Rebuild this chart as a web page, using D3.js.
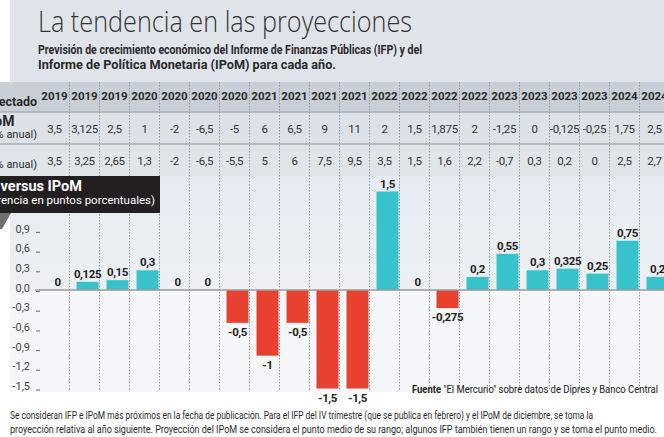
<!DOCTYPE html>
<html>
<head>
<meta charset="utf-8">
<script src="https://cdn.jsdelivr.net/npm/d3@7"></script>
<style>
  body { margin: 0; background: #fff; }
  svg { display: block; font-family: Roboto, "Open Sans", sans-serif; }
</style>
</head>
<body>
<svg id="chart" width="664" height="437"></svg>
<script>
// data
const years = ["2019", "2019", "2019", "2020", "2020", "2020", "2020", "2021", "2021", "2021", "2021",
  "2022", "2022", "2022", "2022", "2023", "2023", "2023", "2023", "2024", "2024"];
const ipomRow = [3.5, 3.125, 2.5, 1, -2, -6.5, -5, 6, 6.5, 9, 11, 2, 1.5, 1.875, 2, -1.25, 0, -0.125, -0.25, 1.75, 2.5];
const ifpRow = [3.5, 3.25, 2.65, 1.3, -2, -6.5, -5.5, 5, 6, 7.5, 9.5, 3.5, 1.5, 1.6, 2.2, -0.7, 0.3, 0.2, 0, 2.5, 2.7];
const diffs = [0, 0.125, 0.15, 0.3, 0, 0, -0.5, -1, -0.5, -1.5, -1.5, 1.5, 0, -0.275, 0.2, 0.55, 0.3, 0.325, 0.25, 0.75, 0.2];
const yTicks = [0.9, 0.6, 0.3, 0, -0.3, -0.6, -0.9, -1.2, -1.5];

const title = "La tendencia en las proyecciones";
const subtitle = [
  "Previsión de crecimiento económico del Informe de Finanzas Públicas (IFP) y del",
  "Informe de Política Monetaria (IPoM) para cada año."
];
const footnote = [
  "Se consideran IFP e IPoM más próximos en la fecha de publicación. Para el IFP del IV trimestre (que se publica en febrero) y el IPoM de diciembre, se toma la",
  "proyección relativa al año siguiente. Proyección del IPoM se considera el punto medio de su rango; algunos IFP también tienen un rango y se toma el punto medio."
];

const svg = d3.select("#chart");
const W = 664;
const comma = (v) => String(v).replace(".", ",");
const tickFmt = (v) => d3.format(".1f")(v).replace(".", ",").replace("−", "-");

// columns and value scale
const x = d3.scaleBand().domain(d3.range(years.length)).range([39.5, 39.5 + 30 * years.length]);
const y = d3.scaleLinear().domain([-1.5, 1.5]).range([388.5, 191.5]);
const barW = 22;
const barX = (i) => x(i) + 7;

// backgrounds
svg.append("rect").attr("x", 10).attr("y", 0).attr("width", W - 10).attr("height", 82).attr("fill", "#dfe4ea");
svg.append("rect").attr("x", 0).attr("y", 82).attr("width", W).attr("height", 30).attr("fill", "#c8cfd7");
svg.append("rect").attr("x", 0).attr("y", 112).attr("width", W).attr("height", 32).attr("fill", "#dde2e8");
svg.append("rect").attr("x", 0).attr("y", 144).attr("width", W).attr("height", 32).attr("fill", "#e0e5ea");

const defs = svg.append("defs");
const grad = defs.append("linearGradient").attr("id", "upper").attr("x1", 0).attr("x2", 0).attr("y1", 0).attr("y2", 1);
grad.append("stop").attr("offset", "0%").attr("stop-color", "#e5ebf1");
grad.append("stop").attr("offset", "100%").attr("stop-color", "#edf1f5");
svg.append("rect").attr("x", 10).attr("y", 176).attr("width", W - 10).attr("height", y(0) - 176).attr("fill", "url(#upper)");
svg.append("rect").attr("x", 10).attr("y", y(0)).attr("width", W - 10).attr("height", 392 - y(0)).attr("fill", "#f6f7f8");

// table lines
svg.append("line").attr("x1", 0).attr("x2", W).attr("y1", 112).attr("y2", 112).attr("stroke", "#a8afb6").attr("stroke-width", 1.5);
svg.append("line").attr("x1", 0).attr("x2", W).attr("y1", 144).attr("y2", 144).attr("stroke", "#a8afb6").attr("stroke-width", 1.5);

// dotted column separators
svg.append("g").selectAll("line")
  .data(d3.range(1, years.length + 1))
  .join("line")
  .attr("x1", (i) => 39.5 + 30 * i).attr("x2", (i) => 39.5 + 30 * i)
  .attr("y1", 82).attr("y2", 390)
  .attr("stroke", "#8c8f93").attr("stroke-width", 0.9).attr("stroke-dasharray", "1.5,1.5");

// title block
svg.append("text").attr("x", 38).attr("y", 32).text(title)
  .attr("font-family", "'Open Sans', sans-serif").attr("font-weight", 300).attr("font-size", 29)
  .attr("fill", "#333").attr("textLength", 374).attr("lengthAdjust", "spacingAndGlyphs");
svg.append("g").selectAll("text").data(subtitle).join("text")
  .attr("x", 38).attr("y", (d, i) => 54 + i * 15)
  .attr("font-size", 13.5).attr("font-weight", 700).attr("fill", "#2a2a2a")
  .attr("textLength", (d, i) => [384, 298][i]).attr("lengthAdjust", "spacingAndGlyphs")
  .text((d) => d);

// table
const table = svg.append("g").attr("fill", "#2a2a2a");
table.append("text").attr("x", 37).attr("y", 106).attr("text-anchor", "end")
  .attr("font-size", 12.5).attr("font-weight", 700).text("Año proyectado");
table.append("text").attr("x", 14.5).attr("y", 126).attr("text-anchor", "end")
  .attr("font-size", 14).attr("font-weight", 700).text("IPoM");
table.append("text").attr("x", 37).attr("y", 137.5).attr("text-anchor", "end")
  .attr("font-size", 11).text("(% anual)");
table.append("text").attr("x", -4).attr("y", 156).attr("text-anchor", "end")
  .attr("font-size", 14).attr("font-weight", 700).text("IFP");
table.append("text").attr("x", 37).attr("y", 168).attr("text-anchor", "end")
  .attr("font-size", 11).text("(% anual)");

table.append("g").selectAll("text").data(years).join("text")
  .attr("x", (d, i) => x(i) + x.bandwidth() / 2).attr("y", 100)
  .attr("text-anchor", "middle").attr("font-size", 11.5).attr("font-weight", 700)
  .text((d) => d);
[ipomRow, ifpRow].forEach((row, r) => {
  table.append("g").selectAll("text").data(row).join("text")
    .attr("x", (d, i) => x(i) + x.bandwidth() / 2).attr("y", [133, 165][r])
    .attr("text-anchor", "middle").attr("font-size", 11.5).attr("fill", "#333")
    .attr("letter-spacing", -0.3)
    .text((d) => comma(d));
});

// dark label box
svg.append("rect").attr("x", 0).attr("y", 176).attr("width", 160).attr("height", 37).attr("fill", "#231f20");
svg.append("polygon").attr("points", "0,213 11,213 2,229 0,229").attr("fill", "#6f6f6f");
svg.append("text").attr("x", 82).attr("y", 190.5).attr("text-anchor", "end")
  .attr("font-size", 14.5).attr("font-weight", 700).attr("fill", "#fff").text("IFP versus IPoM");
svg.append("text").attr("x", 155).attr("y", 204).attr("text-anchor", "end")
  .attr("font-size", 11).attr("fill", "#fff")
  .attr("textLength", 182).attr("lengthAdjust", "spacingAndGlyphs")
  .text("(Diferencia en puntos porcentuales)");

// y axis
const yAxis = svg.append("g").attr("transform", "translate(40,0)")
  .call(d3.axisLeft(y).tickValues(yTicks).tickSize(4).tickPadding(6).tickFormat(tickFmt));
yAxis.select(".domain").remove();
yAxis.selectAll(".tick line").attr("stroke", "#666").attr("transform", "translate(0,1)");
yAxis.selectAll(".tick text").attr("fill", "#444").attr("font-size", 11)
  .attr("font-family", "Roboto, sans-serif").attr("dy", "0.1em");

// bars
svg.append("g").selectAll("rect").data(diffs).join("rect")
  .attr("x", (d, i) => barX(i))
  .attr("y", (d) => y(Math.max(0, d)))
  .attr("width", barW)
  .attr("height", (d) => Math.abs(y(d) - y(0)))
  .attr("fill", (d) => (d >= 0 ? "#37c2cc" : "#e8412f"));

// zero line
svg.append("line").attr("x1", 35).attr("x2", W).attr("y1", y(0)).attr("y2", y(0))
  .attr("stroke", "#9a9a9a").attr("stroke-width", 1.5);

// value labels
svg.append("g").selectAll("text").data(diffs).join("text")
  .attr("x", (d, i) => barX(i) + barW / 2)
  .attr("y", (d) => (d >= 0 ? y(d) - 4 : y(d) + 13))
  .attr("text-anchor", "middle").attr("font-size", 11.5).attr("font-weight", 700)
  .attr("fill", "#222").attr("letter-spacing", -0.4)
  .text((d) => comma(d));

// source
const src = svg.append("text").attr("x", 412).attr("y", 393).attr("font-size", 10.5).attr("fill", "#222")
  .attr("textLength", 246).attr("lengthAdjust", "spacingAndGlyphs");
src.append("tspan").attr("font-weight", 700).text("Fuente");
src.append("tspan").text(" \"El Mercurio\" sobre datos de Dipres y Banco Central");

// footnote
svg.append("g").selectAll("text").data(footnote).join("text")
  .attr("x", 10).attr("y", (d, i) => 418.5 + i * 14)
  .attr("font-size", 10).attr("fill", "#2a2a2a")
  .attr("textLength", (d, i) => [583, 647][i]).attr("lengthAdjust", "spacingAndGlyphs")
  .text((d) => d);
</script>
</body>
</html>
